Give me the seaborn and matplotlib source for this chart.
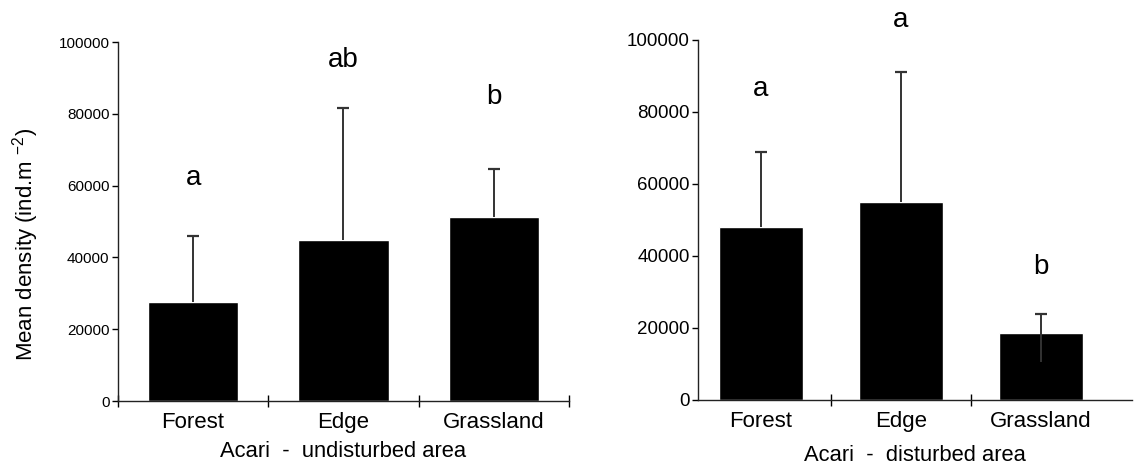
import pandas as pd
import matplotlib.pyplot as plt
import seaborn as sns

# values
habitats = ["Forest", "Edge", "Grassland"]
undist_mean = [27600, 44800, 51300]
undist_top = [46000, 81500, 64500]
undist_letters = ["a", "ab", "b"]
undist_letter_y = [62000, 95000, 84600]

dist_mean = [48000, 55000, 18600]
dist_top = [69000, 91000, 23800]
dist_bottom = [48000, 55000, 10500]
dist_letters = ["a", "a", "b"]
dist_letter_y = [86500, 105500, 37000]

sns.set_style("ticks")
plt.rcParams["font.family"] = ["Liberation Sans", "DejaVu Sans"]
plt.rcParams["mathtext.fontset"] = "custom"
plt.rcParams["mathtext.rm"] = "Liberation Sans"
plt.rcParams["mathtext.it"] = "Liberation Sans"
plt.rcParams["text.color"] = "black"
plt.rcParams["axes.labelcolor"] = "black"
plt.rcParams["xtick.color"] = "black"
plt.rcParams["ytick.color"] = "black"

fig = plt.figure(figsize=(11.44, 4.67), dpi=100)
ax1 = fig.add_axes([0.1031, 0.1413, 0.3942, 0.7687])
ax2 = fig.add_axes([0.6101, 0.1435, 0.3794, 0.7709])

panels = [
    (ax1, undist_mean, undist_top, undist_mean, undist_letters, undist_letter_y,
     "Acari  -  undisturbed area", (-0.5, 2.5), [-0.5, 0.5, 1.5, 2.5], 11, 6),
    (ax2, dist_mean, dist_top, dist_bottom, dist_letters, dist_letter_y,
     "Acari  -  disturbed area", (-0.45, 2.65), [0.5, 1.5], 13.5, 9),
]

err_col = "#333333"
for ax, mean, top, bottom, letters, letter_y, xlab, xl, bounds, ysize, lpad in panels:
    df = pd.DataFrame({"habitat": habitats, "density": mean})
    sns.barplot(data=df, x="habitat", y="density", color="black", width=0.6,
                errorbar=None, saturation=1, ax=ax)
    x = list(range(len(habitats)))
    up = [t - m for t, m in zip(top, mean)]
    lo = [m - b for m, b in zip(mean, bottom)]
    # whiskers without caps, then a cap on the upper end only
    ax.errorbar(x, mean, yerr=[lo, up], fmt="none", ecolor=err_col,
                elinewidth=1.4, capsize=0)
    ax.plot(x, top, linestyle="none", marker="_", markersize=8,
            markeredgewidth=1.6, color=err_col)
    for i, (lt, ly) in enumerate(zip(letters, letter_y)):
        ax.text(i, ly, lt, ha="center", va="center", fontsize=20, clip_on=False)
    ax.set_xlim(*xl)
    ax.set_ylim(0, 100000)
    ax.set_yticks(range(0, 100001, 20000))
    ax.tick_params(axis="y", labelsize=ysize, length=4, width=1, pad=2)
    ax.set_xticks([0, 1, 2])
    ax.set_xticklabels(habitats, fontsize=16)
    ax.tick_params(axis="x", length=0, pad=8)
    ax.set_xticks(bounds, minor=True)
    ax.tick_params(axis="x", which="minor", direction="inout", length=8, width=1)
    ax.set_xlabel(xlab, fontsize=15.8, labelpad=lpad)
    ax.set_ylabel("")
    sns.despine(ax=ax)
    for s in ["left", "bottom"]:
        ax.spines[s].set_linewidth(1)
        ax.spines[s].set_color("#222222")

ax1.set_ylabel(r"Mean density (ind.m $^{-2}$)", fontsize=16)
ax1.yaxis.set_label_coords(-0.17, 0.435)

fig.savefig("out.png", dpi=100)
